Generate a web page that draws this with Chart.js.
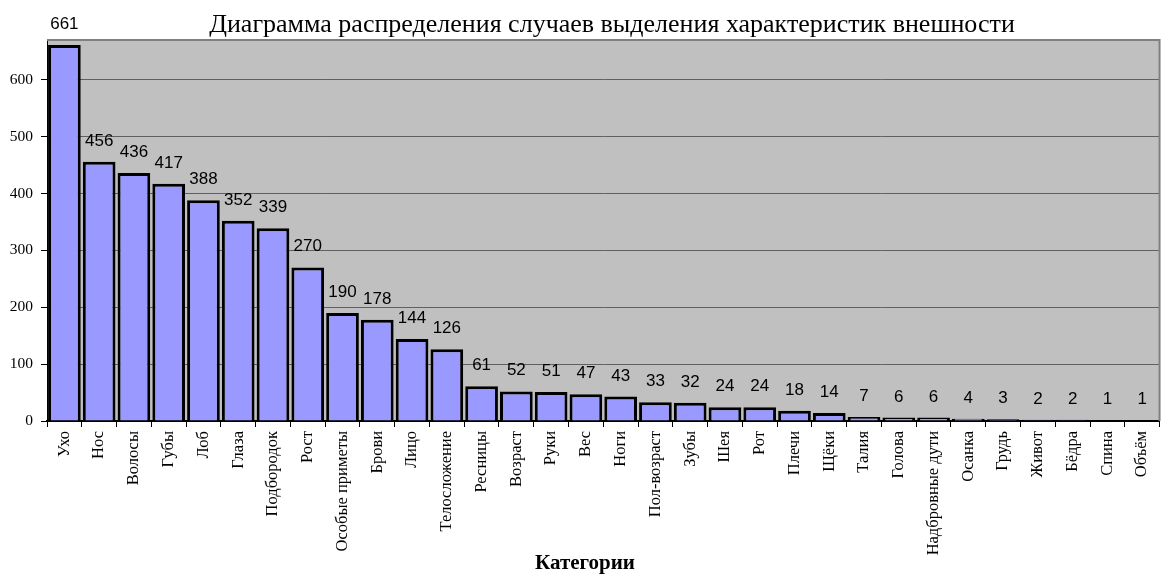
<!DOCTYPE html>
<html>
<head>
<meta charset="utf-8">
<script src="https://cdn.jsdelivr.net/npm/chart.js@4.4.1/dist/chart.umd.min.js"></script>
<style>
  html, body { margin: 0; padding: 0; background: #fff; }
  #wrap { width: 1166px; height: 574px; }
</style>
</head>
<body>
<div id="wrap"><canvas id="featuresChart" width="1166" height="574"></canvas></div>
<script>
// categories and counts
const categories = [
  "Ухо", "Нос", "Волосы", "Губы", "Лоб", "Глаза", "Подбородок", "Рост",
  "Особые приметы", "Брови", "Лицо", "Телосложение", "Ресницы", "Возраст",
  "Руки", "Вес", "Ноги", "Пол-возраст", "Зубы", "Шея", "Рот", "Плечи",
  "Щёки", "Талия", "Голова", "Надбровные дути", "Осанка", "Грудь", "Живот",
  "Бёдра", "Спина", "Объём"
];
const counts = [
  661, 456, 436, 417, 388, 352, 339, 270, 190, 178, 144, 126, 61, 52, 51, 47,
  43, 33, 32, 24, 24, 18, 14, 7, 6, 6, 4, 3, 2, 2, 1, 1
];
const yTicks = [0, 100, 200, 300, 400, 500, 600];

const chartTitle = "Диаграмма распределения случаев выделения характеристик внешности";
const xTitle = "Категории";

const serif = "'Times New Roman', 'Liberation Serif', serif";

// grey plot background + frame
const plotBackground = {
  id: "plotBackground",
  beforeDraw(chart) {
    const { ctx, chartArea: a } = chart;
    ctx.save();
    ctx.fillStyle = "#c0c0c0";
    ctx.fillRect(a.left, a.top, a.right - a.left, a.bottom - a.top);
    ctx.restore();
  },
  afterDatasetsDraw(chart) {
    const { ctx, chartArea: a } = chart;
    ctx.save();
    ctx.strokeStyle = "#808080";
    ctx.lineWidth = 2;
    ctx.beginPath();
    ctx.moveTo(a.left, a.top);
    ctx.lineTo(a.right, a.top);
    ctx.lineTo(a.right, a.bottom);
    ctx.stroke();
    ctx.restore();
  }
};

// value labels above bars, chart title, axis title
const valueLabels = {
  id: "valueLabels",
  afterDraw(chart) {
    const ctx = chart.ctx;
    const meta = chart.getDatasetMeta(0);
    ctx.save();
    ctx.font = "17px Arial, 'Liberation Sans', sans-serif";
    ctx.fillStyle = "#000";
    ctx.textAlign = "center";
    ctx.textBaseline = "alphabetic";
    meta.data.forEach((bar, i) => {
      ctx.fillText(String(counts[i]), bar.x, bar.y - 16);
    });

    ctx.font = "26px " + serif;
    ctx.fillText(chartTitle, 612, 32);

    ctx.font = "bold 21px " + serif;
    ctx.fillText(xTitle, 585, 569);
    ctx.restore();
  }
};

new Chart(document.getElementById("featuresChart").getContext("2d"), {
  type: "bar",
  data: {
    labels: categories,
    datasets: [{
      data: counts,
      backgroundColor: "#9999ff",
      borderColor: "#000",
      borderWidth: 3,
      barPercentage: 0.94,
      categoryPercentage: 1.0
    }]
  },
  options: {
    responsive: false,
    animation: false,
    layout: { padding: { top: 40, right: 2, left: 0, bottom: 0 } },
    plugins: {
      legend: { display: false },
      tooltip: { enabled: false },
      title: { display: false }
    },
    scales: {
      x: {
        grid: {
          offset: true,
          drawOnChartArea: false,
          drawTicks: true,
          tickLength: 6,
          color: "#000"
        },
        border: { color: "#000", width: 2 },
        ticks: {
          autoSkip: false,
          maxRotation: 90,
          minRotation: 90,
          padding: 4,
          color: "#000",
          font: { family: serif, size: 16.5 }
        },
        afterFit(scale) { scale.height = 153; }
      },
      y: {
        min: 0,
        max: 670,
        afterBuildTicks(scale) {
          scale.ticks = yTicks.map(v => ({ value: v }));
        },
        grid: {
          color: "#606060",
          lineWidth: 1,
          drawTicks: true,
          tickLength: 6,
          tickColor: "#000"
        },
        border: { color: "#000", width: 1 },
        ticks: {
          padding: 8,
          color: "#000",
          font: { family: serif, size: 15.5 }
        },
        afterFit(scale) { scale.width = 47; }
      }
    }
  },
  plugins: [plotBackground, valueLabels]
});
</script>
</body>
</html>
